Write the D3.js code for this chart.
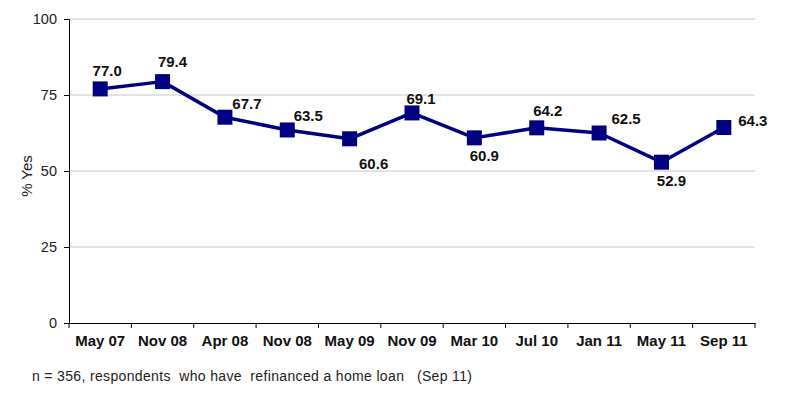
<!DOCTYPE html>
<html><head><meta charset="utf-8">
<script src="https://cdn.jsdelivr.net/npm/d3@7"></script>
<style>body{margin:0;background:#fff;} svg text{font-family:"Liberation Sans",Arial,sans-serif;}</style>
</head><body>
<svg id="c" width="800" height="399"></svg>
<script>
const categories = ["May 07","Nov 08","Apr 08","Nov 08 ","May 09","Nov 09","Mar 10","Jul 10","Jan 11","May 11","Sep 11"];
const values = [77.0,79.4,67.7,63.5,60.6,69.1,60.9,64.2,62.5,52.9,64.3];
const yTicks = [0,25,50,75,100];

const svg = d3.select("#c");
const L = 69, R = 755, T = 19, B = 323;
const x = d3.scaleBand().domain(categories).range([L,R]);
const y = d3.scaleLinear().domain([0,100]).range([B,T]);

svg.append("g").selectAll("line").data(yTicks.filter(d=>d>0)).join("line")
  .attr("x1",L).attr("x2",R).attr("y1",d=>y(d)).attr("y2",d=>y(d))
  .attr("stroke","#c8c8c8").attr("stroke-width",1);

const ya = svg.append("g").attr("transform",`translate(${L},0)`)
  .call(d3.axisLeft(y).tickValues(yTicks).tickSize(5).tickPadding(7));
ya.attr("font-family",null);
ya.select(".domain").attr("stroke","#000");
ya.selectAll("text").attr("font-size",14.5).attr("fill","#222");

const xa = svg.append("g").attr("transform",`translate(0,${B})`)
  .call(d3.axisBottom(x).tickSize(0).tickPadding(12));
xa.attr("font-family",null);
xa.select(".domain").attr("stroke","#000");
xa.selectAll("text").attr("font-size",15).attr("font-weight","bold").attr("fill","#111").text(d=>d.trim());
const bounds = categories.map(c=>x(c)).concat([R]);
svg.append("g").selectAll("line").data(bounds).join("line")
  .attr("x1",d=>d).attr("x2",d=>d).attr("y1",B).attr("y2",B+5).attr("stroke","#000");

const cx = i => x(categories[i]) + x.bandwidth()/2;
const line = d3.line().x((d,i)=>cx(i)).y(d=>y(d));
svg.append("path").datum(values).attr("d",line).attr("fill","none")
  .attr("stroke","#000080").attr("stroke-width",3.5).attr("stroke-linejoin","round");

const s = 15;
svg.append("g").selectAll("rect").data(values).join("rect")
  .attr("x",(d,i)=>cx(i)-s/2).attr("y",d=>y(d)-s/2)
  .attr("width",s).attr("height",s).attr("fill","#000080");

// label offsets (center dx, baseline dy) relative to each point
const lp = [[7,-13],[10,-15],[22,-8],[21,-9],[24,30],[9,-9],[10,23],[11,-12],[27,-9],[10,24],[29,-2]];
svg.append("g").selectAll("text").data(values).join("text")
  .attr("x",(d,i)=>cx(i)+lp[i][0])
  .attr("y",(d,i)=>y(d)+lp[i][1])
  .attr("text-anchor","middle").attr("font-size",15).attr("font-weight","bold").attr("fill","#111")
  .text(d=>d.toFixed(1));

svg.append("text").attr("transform","translate(32,176) rotate(-90)")
  .attr("text-anchor","middle").attr("font-size",15).attr("fill","#222").text("% Yes");

svg.append("text").attr("x",32).attr("y",381).attr("font-size",14).attr("fill","#222")
  .attr("textLength",440).attr("lengthAdjust","spacing")
  .style("white-space","pre")
  .text("n = 356, respondents  who have  refinanced a home loan   (Sep 11)");
</script>
</body></html>
